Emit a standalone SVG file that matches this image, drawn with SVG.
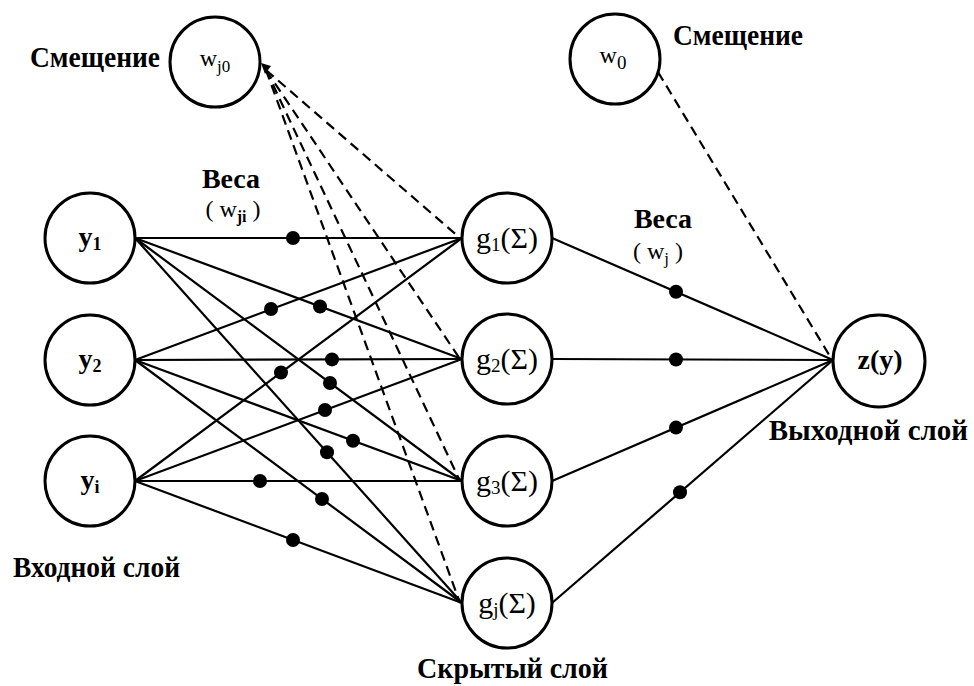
<svg xmlns="http://www.w3.org/2000/svg" width="974" height="686" viewBox="0 0 974 686">
<style>
.node{fill:#fff;stroke:#000;stroke-width:3}
.ln{stroke:#000;stroke-width:2.2;fill:none}
.ds{stroke:#000;stroke-width:2.2;fill:none;stroke-dasharray:10 6}
.dot{fill:#000}
.lbl{font-family:"Liberation Serif","Times New Roman",serif;font-weight:bold;font-size:29px;fill:#000}
.bt{font-family:"Liberation Serif","Times New Roman",serif;font-weight:bold;font-size:28px;fill:#000}
.rt{font-family:"Liberation Serif","Times New Roman",serif;font-size:30px;fill:#000}
.wt{font-family:"Liberation Serif","Times New Roman",serif;font-size:24px;fill:#000}
</style>
<rect width="974" height="686" fill="#fff"/>
<g id="connectors">
  <line class="ds" x1="266" y1="70" x2="460" y2="238"/>
  <line class="ds" x1="266" y1="70" x2="460" y2="359"/>
  <line class="ds" x1="266" y1="70" x2="460" y2="481"/>
  <line class="ds" x1="266" y1="70" x2="460" y2="603"/>
  <polygon points="261,63 271,66 265,74" fill="#000"/>
  <line class="ds" x1="658" y1="72" x2="831" y2="358"/>
  <line class="ln" x1="135" y1="238" x2="462" y2="238"/>
  <line class="ln" x1="135" y1="238" x2="462" y2="359"/>
  <line class="ln" x1="135" y1="238" x2="462" y2="481"/>
  <line class="ln" x1="135" y1="238" x2="462" y2="603"/>
  <line class="ln" x1="135" y1="360" x2="462" y2="238"/>
  <line class="ln" x1="135" y1="360" x2="462" y2="359"/>
  <line class="ln" x1="135" y1="360" x2="462" y2="481"/>
  <line class="ln" x1="135" y1="360" x2="462" y2="603"/>
  <line class="ln" x1="135" y1="481" x2="462" y2="238"/>
  <line class="ln" x1="135" y1="481" x2="462" y2="359"/>
  <line class="ln" x1="135" y1="481" x2="462" y2="481"/>
  <line class="ln" x1="135" y1="481" x2="462" y2="603"/>
  <line class="ln" x1="552" y1="238" x2="833" y2="360"/>
  <line class="ln" x1="552" y1="359" x2="833" y2="360"/>
  <line class="ln" x1="552" y1="481" x2="833" y2="360"/>
  <line class="ln" x1="552" y1="603" x2="833" y2="360"/>
  <circle class="dot" cx="293" cy="238" r="7"/>
  <circle class="dot" cx="271" cy="309" r="7"/>
  <circle class="dot" cx="320" cy="306.5" r="7"/>
  <circle class="dot" cx="332" cy="359.4" r="7"/>
  <circle class="dot" cx="281" cy="372.5" r="7"/>
  <circle class="dot" cx="330" cy="383" r="7"/>
  <circle class="dot" cx="325" cy="410" r="7"/>
  <circle class="dot" cx="353" cy="440.7" r="7"/>
  <circle class="dot" cx="327" cy="452.3" r="7"/>
  <circle class="dot" cx="260" cy="481" r="7"/>
  <circle class="dot" cx="322" cy="499" r="7"/>
  <circle class="dot" cx="293" cy="540" r="7"/>
  <circle class="dot" cx="676" cy="291.8" r="7"/>
  <circle class="dot" cx="676" cy="359.5" r="7"/>
  <circle class="dot" cx="676" cy="427.6" r="7"/>
  <circle class="dot" cx="680" cy="492.3" r="7"/>
</g>
<g id="bias-hidden">
  <circle class="node" cx="215" cy="62" r="45"/>
  <text class="wt" x="215" y="66" text-anchor="middle">w<tspan font-size="17" dy="6">j0</tspan></text>
</g>
<g id="bias-output">
  <circle class="node" cx="615" cy="59" r="45"/>
  <text class="wt" x="613" y="63" text-anchor="middle">w<tspan font-size="19" dy="6">0</tspan></text>
</g>
<g id="y1">
  <circle class="node" cx="90" cy="238" r="45"/>
  <text class="bt" x="90" y="246" text-anchor="middle">y<tspan font-size="18" dy="4">1</tspan></text>
</g>
<g id="y2">
  <circle class="node" cx="90" cy="360" r="45"/>
  <text class="bt" x="90" y="368" text-anchor="middle">y<tspan font-size="18" dy="4">2</tspan></text>
</g>
<g id="yi">
  <circle class="node" cx="90" cy="481" r="45"/>
  <text class="bt" x="90" y="489" text-anchor="middle">y<tspan font-size="18" dy="4">i</tspan></text>
</g>
<g id="g1">
  <circle class="node" cx="507" cy="238" r="45"/>
  <text class="rt" x="507" y="248" text-anchor="middle">g<tspan font-size="19" dy="3">1</tspan><tspan dy="-3">(Σ)</tspan></text>
</g>
<g id="g2">
  <circle class="node" cx="507" cy="359" r="45"/>
  <text class="rt" x="507" y="369" text-anchor="middle">g<tspan font-size="19" dy="3">2</tspan><tspan dy="-3">(Σ)</tspan></text>
</g>
<g id="g3">
  <circle class="node" cx="507" cy="481" r="45"/>
  <text class="rt" x="507" y="491" text-anchor="middle">g<tspan font-size="19" dy="3">3</tspan><tspan dy="-3">(Σ)</tspan></text>
</g>
<g id="gj">
  <circle class="node" cx="507" cy="603" r="45"/>
  <text class="rt" x="507" y="613" text-anchor="middle">g<tspan font-size="19" dy="3">j</tspan><tspan dy="-3">(Σ)</tspan></text>
</g>
<g id="z">
  <circle class="node" cx="879" cy="361" r="46"/>
  <text class="bt" x="880" y="369" text-anchor="middle">z(y)</text>
</g>
<g id="labels">
  <text class="lbl" x="30" y="67" textLength="130" lengthAdjust="spacingAndGlyphs">Смещение</text>
  <text class="lbl" x="673" y="45" textLength="130" lengthAdjust="spacingAndGlyphs">Смещение</text>
  <text class="bt" x="231" y="188" text-anchor="middle">Веса</text>
  <text class="wt" x="233" y="217" text-anchor="middle">( w<tspan font-size="16" font-weight="bold" dy="5">ji</tspan><tspan dy="-5"> )</tspan></text>
  <text class="bt" x="663" y="228" text-anchor="middle">Веса</text>
  <text class="wt" x="658" y="259" text-anchor="middle">( w<tspan font-size="17" dy="5">j</tspan><tspan dy="-5"> )</tspan></text>
  <text class="lbl" x="13" y="577" textLength="167" lengthAdjust="spacingAndGlyphs">Входной слой</text>
  <text class="lbl" x="417" y="678" textLength="191" lengthAdjust="spacingAndGlyphs">Скрытый слой</text>
  <text class="lbl" x="968" y="440" font-size="26" text-anchor="end">Выходной слой</text>
</g>
</svg>
